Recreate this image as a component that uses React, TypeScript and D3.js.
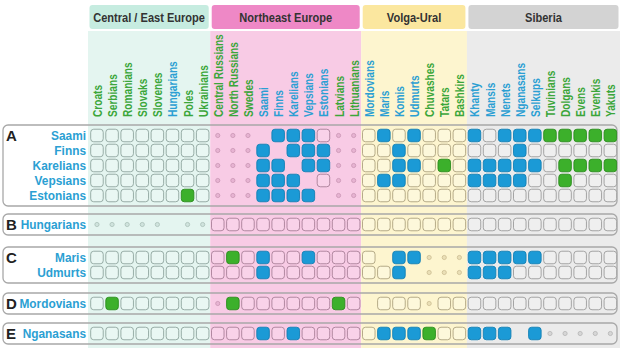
import React from "react";
import * as d3 from "d3";

const SECTIONS = ["Central / East Europe", "Northeast Europe", "Volga-Ural", "Siberia"];
const SECTION_COLUMNS = [
  ["Croats", "Serbians", "Romanians", "Slovaks", "Slovenes", "Hungarians", "Poles", "Ukrainians"],
  ["Central Russians", "North Russians", "Swedes", "Saami", "Finns", "Karelians", "Vepsians", "Estonians", "Latvians", "Lithuanians"],
  ["Mordovians", "Maris", "Komis", "Udmurts", "Chuvashes", "Tatars", "Bashkirs"],
  ["Khanty", "Mansis", "Nenets", "Nganasans", "Selkups", "Tuvinians", "Dolgans", "Evens", "Evenkis", "Yakuts"],
];
const URALIC = ["Hungarians", "Saami", "Finns", "Karelians", "Vepsians", "Estonians", "Mordovians", "Maris", "Komis", "Udmurts", "Khanty", "Mansis", "Nenets", "Nganasans", "Selkups"];

const GROUP_LETTERS = ["A", "B", "C", "D", "E"];
const GROUP_ROWS = [
  ["Saami", "Finns", "Karelians", "Vepsians", "Estonians"],
  ["Hungarians"],
  ["Maris", "Udmurts"],
  ["Mordovians"],
  ["Nganasans"],
];

// o = not significant, b = significant (Uralic), g = significant (other), . = not tested, - = self
const ROW_VALUES: Record<string, string[]> = {
  Saami: ["oooooooo", "...-bbbo..", "obobooo", "bobbbggggg"],
  Finns: ["oooooooo", "...b-bbb..", "ooboooo", "ooob" + "oooooo"],
  Karelians: ["oooooooo", "...bb-bb..", "oobbogo", "bbbbbogggg"],
  Vepsians: ["oooooooo", "...bbb-o..", "obboooo", "bbbboogooo"],
  Estonians: ["oooooogo", "...bbbb-..", "ooooooo", "oooooooooo"],
  Hungarians: [".....-..", "oooooooooo", "ooooooo", "oooooooooo"],
  Maris: ["oooooooo", "ogobooboo" + "o", "o-bb...", "bbbbbooooo"],
  Udmurts: ["oooooooo", "ooob" + "oooooo", "oob-...", "bbbooooooo"],
  Mordovians: ["ogoooooo", ".goooooogo", "-ooo.oo", "oooooooooo"],
  Nganasans: ["oooooooo", "ooobob" + "oooo", "obbbgoo", "bbb-b....."],
};

const SECTION_BG = ["#e4f5f0", "#f8cbe5", "#fdf5cf", "#ebebeb"];
const SECTION_HEAD = ["#c6ece0", "#ee88c6", "#fbe79f", "#d3d3d3"];
const CELL_FILL = ["#e9f7f3", "#f9d2e9", "#fdf8db", "#efefef"];
const CELL_STROKE = ["#8fa59e", "#a98098", "#aea37f", "#9c9c9c"];
const DOT_FILL = ["#cfe3dd", "#e7b3d2", "#eadfb6", "#d6d6d6"];
const DOT_STROKE = ["#a9bfb8", "#c996b4", "#cbbd92", "#b5b5b5"];
const BLUE = "#1b9ad6";
const BLUE_S = "#1380b4";
const GREEN = "#3cb02b";
const GREEN_S = "#2a8c1d";
const LABEL_BLUE = "#2b9fd3";
const LABEL_GREEN = "#3ba63a";

const GROUP_TOPS = [125, 214, 247, 293, 323];

export default function App() {
  const W = 620, H = 350;
  const columns = SECTION_COLUMNS.flat();
  const colSection: number[] = SECTION_COLUMNS.flatMap((c, i) => c.map(() => i));
  const step = 15.1;
  const x = d3.scaleBand<string>().domain(columns).range([90.7, 90.7 + step * (columns.length - 0.17)]).paddingInner(0.17).paddingOuter(0);
  const bw = x.bandwidth();
  const rowPitch = 15;

  const bounds: [number, number][] = SECTION_COLUMNS.map((cols, i) => {
    const first = x(cols[0])!;
    const last = x(cols[cols.length - 1])! + bw;
    const left = i === 0 ? 88 : (x(SECTION_COLUMNS[i - 1][SECTION_COLUMNS[i - 1].length - 1])! + bw + first) / 2;
    const right = i === SECTION_COLUMNS.length - 1 ? W : (last + x(SECTION_COLUMNS[i + 1][0])!) / 2;
    return [left, right];
  });

  const font = "'Liberation Sans', Arial, sans-serif";

  const groups = GROUP_ROWS.map((rows, gi) => {
    const top = GROUP_TOPS[gi];
    const y = d3.scalePoint<string>().domain(rows).range([top + 10.5, top + 10.5 + (rows.length - 1) * rowPitch]);
    return { rows, top, y, height: 21 + (rows.length - 1) * rowPitch };
  });

  return (
    <svg width={W} height={H} style={{ position: "absolute", left: 0, top: 0, background: "#fff" }} fontFamily={font}>
      {bounds.map(([l, r], i) => (
        <g key={"sec" + i}>
          <rect x={l} y={31} width={r - l} height={H - 31 - 2} fill={SECTION_BG[i]} />
          <rect x={l + 1.5} y={5} width={r - l - 3} height={24} rx={3} fill={SECTION_HEAD[i]} />
          <text
            transform={`translate(${(l + r) / 2},${21.5}) scale(0.82,1)`}
            textAnchor="middle"
            fontSize={13.5}
            fontWeight="bold"
            fill="#333"
          >
            {SECTIONS[i]}
          </text>
        </g>
      ))}
      {columns.map((c) => (
        <text
          key={"col" + c}
          transform={`translate(${x(c)! + bw / 2 + 5},117) rotate(-90) scale(0.78,1)`}
          fontSize={13}
          fontWeight="bold"
          fill={URALIC.includes(c) ? LABEL_BLUE : LABEL_GREEN}
        >
          {c}
        </text>
      ))}
      {groups.map((g, gi) => (
        <g key={"grp" + gi}>
          <rect x={3} y={g.top} width={W - 6} height={g.height} rx={5} fill="none" stroke="#a8a8a8" strokeWidth={1.3} />
          <text x={6} y={g.y(g.rows[0])!} dy="0.36em" fontSize={15} fontWeight="bold" fill="#222">
            {GROUP_LETTERS[gi]}
          </text>
          {g.rows.map((r) => {
            const cy = g.y(r)!;
            const vals = ROW_VALUES[r].join("");
            return (
              <g key={"row" + r}>
                <text transform={`translate(86,${cy}) scale(0.88,1)`} dy="0.36em" textAnchor="end" fontSize={13.5} fontWeight="bold" fill={LABEL_BLUE}>
                  {r}
                </text>
                {columns.map((c, ci) => {
                  const v = vals[ci];
                  const s = colSection[ci];
                  const cx = x(c)! + bw / 2;
                  if (v === "-" || v === undefined) return null;
                  if (v === ".") {
                    return <circle key={c} cx={cx} cy={cy} r={2.1} fill={DOT_FILL[s]} stroke={DOT_STROKE[s]} strokeWidth={0.8} />;
                  }
                  const fill = v === "b" ? BLUE : v === "g" ? GREEN : CELL_FILL[s];
                  const stroke = v === "b" ? BLUE_S : v === "g" ? GREEN_S : CELL_STROKE[s];
                  return (
                    <rect key={c} x={x(c)!} y={cy - bw / 2} width={bw} height={bw} rx={3} fill={fill} stroke={stroke} strokeWidth={0.9} />
                  );
                })}
              </g>
            );
          })}
        </g>
      ))}
    </svg>
  );
}
